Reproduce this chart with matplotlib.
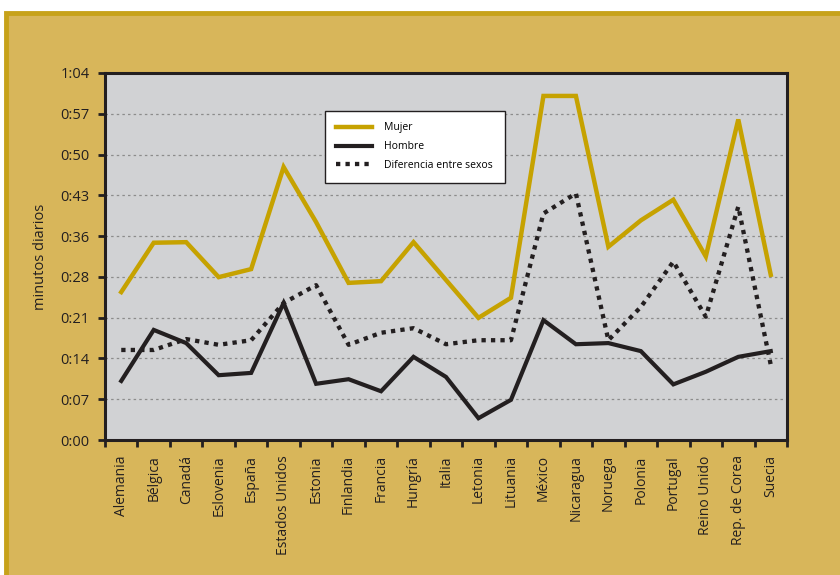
import numpy as np
import matplotlib
matplotlib.use("Agg")
import matplotlib.pyplot as plt
from matplotlib.patches import Rectangle

plt.rcParams['font.family'] = ['Open Sans', 'DejaVu Sans']

paises = ["Alemania", "Bélgica", "Canadá", "Eslovenia", "España", "Estados Unidos",
          "Estonia", "Finlandia", "Francia", "Hungría", "Italia", "Letonia", "Lituania",
          "México", "Nicaragua", "Noruega", "Polonia", "Portugal", "Reino Unido",
          "Rep. de Corea", "Suecia"]
# minutos diarios
mujer = [25.8, 34.4, 34.5, 28.4, 29.8, 47.6, 38.0, 27.4, 27.7, 34.5, 27.9, 21.3,
         24.8, 60.0, 60.0, 33.7, 38.3, 41.9, 32.0, 55.9, 28.8]
hombre = [10.3, 19.2, 16.9, 11.3, 11.7, 23.9, 9.8, 10.6, 8.5, 14.5, 11.0, 3.8,
          7.0, 20.9, 16.7, 16.9, 15.5, 9.7, 11.9, 14.5, 15.5]
diferencia = [15.7, 15.7, 17.6, 16.6, 17.4, 23.9, 27.0, 16.6, 18.7, 19.5, 16.7, 17.4,
              17.4, 39.5, 43.0, 17.4, 23.2, 31.1, 21.5, 40.7, 13.1]
y_max = 64

W, H = 840, 575
fig = plt.figure(figsize=(W / 100, H / 100), dpi=100)
fig.patch.set_facecolor("white")

gold_fill = "#D8B65A"
gold_edge = "#C7A21A"
bg = Rectangle((6 / W, -0.05), 1.1, (H - 13) / H + 0.05,
               transform=fig.transFigure, facecolor=gold_fill,
               edgecolor=gold_edge, linewidth=3.5, zorder=-10)
fig.patches.append(bg)

L, R, T, B = 105, 787, 73, 440
ax = fig.add_axes([L / W, (H - B) / H, (R - L) / W, (B - T) / H])
ax.set_zorder(5)
ax.set_facecolor("#D1D2D4")

x = np.arange(len(paises))
ax.plot(x, mujer, color="#C6A200", lw=3.2, solid_joinstyle="miter", label="Mujer", zorder=3)
ax.plot(x, hombre, color="#231F20", lw=3.0, solid_joinstyle="miter", label="Hombre", zorder=3)
ax.plot(x, diferencia, color="#231F20", lw=3.1, linestyle=(0, (1.0, 1.2)),
        dash_capstyle="butt", label="Diferencia entre sexos", zorder=4)

ax.set_xlim(-0.5, len(paises) - 0.5)
ax.set_ylim(0, y_max)

yt = np.linspace(0, y_max, 10)
ax.set_yticks(yt)
ax.set_yticklabels([f"{int(round(v)) // 60}:{int(round(v)) % 60:02d}" for v in yt], fontsize=10.5)
for v in yt[1:-1]:
    ax.axhline(v, color="#8C8C8C", lw=0.9, linestyle=(0, (2, 2.5)), zorder=1)

ax.set_xticks(np.arange(-0.5, len(paises)), minor=False)
ax.set_xticklabels([])
ax.set_xticks(x, minor=True)
ax.set_xticklabels(paises, minor=True, rotation=90, fontsize=10, va="top", ha="center")
ax.tick_params(axis="x", which="major", length=5, width=2, direction="out", color="#231F20")
ax.tick_params(axis="x", which="minor", length=0, pad=11)
ax.tick_params(axis="y", length=5, width=2, direction="out", color="#231F20", pad=6)

for s in ax.spines.values():
    s.set_linewidth(2.2)
    s.set_color("#231F20")

ax.set_ylabel("minutos diarios", fontsize=10.5, labelpad=9, color="#231F20")

leg = ax.legend(loc="upper left", bbox_to_anchor=((325 - L) / (R - L), (B - 111) / (B - T)),
                fontsize=7.5, frameon=True, fancybox=False, edgecolor="#231F20",
                handlelength=3.4, handletextpad=1.2, labelspacing=0.75, borderpad=1.1,
                borderaxespad=0)
leg.get_frame().set_linewidth(1.0)
leg.get_frame().set_facecolor("white")
leg.get_frame().set_alpha(1)

for t in ax.get_yticklabels() + ax.get_xticklabels(minor=True):
    t.set_color("#231F20")

fig.savefig("out.png", dpi=100, facecolor=fig.get_facecolor())
